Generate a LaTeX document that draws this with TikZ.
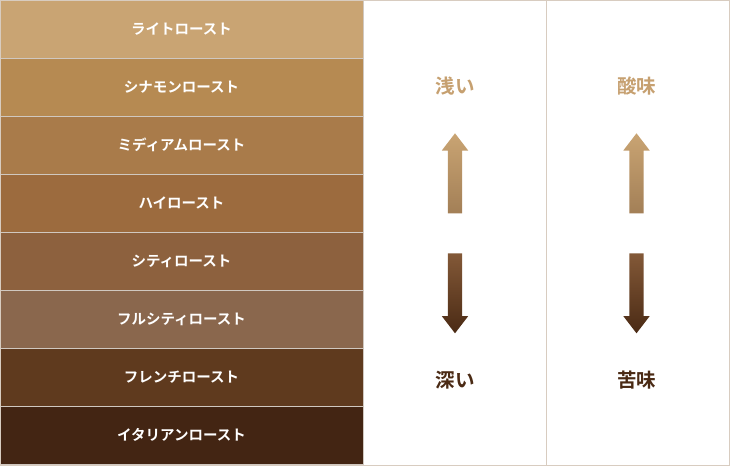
\documentclass[tikz,border=0pt]{standalone}
\usepackage{fontspec}
\setmainfont{Noto Sans CJK JP}[BoldFont={Noto Sans CJK JP Bold}]
\usepackage{tikz}
\usetikzlibrary{positioning,shapes.arrows}

\definecolor{frame}{RGB}{216, 204, 192}
\definecolor{rule}{RGB}{208, 200, 192}
\definecolor{lightroast}{RGB}{201, 164, 115}
\definecolor{cinnamonroast}{RGB}{182, 138, 82}
\definecolor{mediumroast}{RGB}{169, 123, 74}
\definecolor{highroast}{RGB}{156, 107, 62}
\definecolor{cityroast}{RGB}{141, 97, 62}
\definecolor{fullcityroast}{RGB}{138, 103, 77}
\definecolor{frenchroast}{RGB}{95, 58, 30}
\definecolor{italianroast}{RGB}{67, 37, 19}
\definecolor{shallow}{RGB}{198, 160, 112}
\definecolor{deep}{RGB}{74, 42, 20}

\begin{document}
\begin{tikzpicture}[x=1pt, y=-1pt,
            roast/.style={
                rectangle, draw=rule, line width=0.8pt,
                minimum width=363pt, minimum height=58pt,
                inner sep=0pt, outer sep=0pt,
                text=white, font=\bfseries\fontsize{14.5}{17}\selectfont
            },
            taste/.style={font=\bfseries\fontsize{19.5}{22}\selectfont},
            uparrow/.style={
                single arrow, shape border rotate=90, draw=none,
                minimum height=80pt, inner sep=7pt, outer sep=0pt, anchor=tip,
                single arrow head extend=6pt, single arrow tip angle=75,
                top color=lightroast, bottom color=lightroast!70!deep
            },
            downarrow/.style={
                single arrow, shape border rotate=270, draw=none,
                minimum height=80pt, inner sep=7pt, outer sep=0pt, anchor=tip,
                single arrow head extend=6pt, single arrow tip angle=75,
                top color=cityroast!85!deep, bottom color=deep
            },
        ]

            \useasboundingbox (0,0) rectangle (730,466);

            % roast levels
            \node [roast, fill=lightroast]    (light)    at (181.5,29)          {ライトロースト};
            \node [roast, fill=cinnamonroast] (cinnamon) [below=0pt of light]   {シナモンロースト};
            \node [roast, fill=mediumroast]   (medium)   [below=0pt of cinnamon]{ミディアムロースト};
            \node [roast, fill=highroast]     (high)     [below=0pt of medium]  {ハイロースト};
            \node [roast, fill=cityroast]     (city)     [below=0pt of high]    {シティロースト};
            \node [roast, fill=fullcityroast] (fullcity) [below=0pt of city]    {フルシティロースト};
            \node [roast, fill=frenchroast]   (french)   [below=0pt of fullcity]{フレンチロースト};
            \node [roast, fill=italianroast]  (italian)  [below=0pt of french]  {イタリアンロースト};

            % columns
            \draw[frame, line width=0.8pt] (0.4,0.4) rectangle (729.6,465.6);
            \draw[frame, line width=0.8pt] (546,0) -- (546,466);

            % degree of roast
            \node [taste, text=shallow] (shallow) at (455,86.5)  {浅い};
            \node [taste, text=deep]    (deep)    at (455,380) {深い};
            \node [uparrow]   (up1)   at (455,133.3) {};
            \node [downarrow] (down1) at (455,333.3) {};

            % taste
            \node [taste, text=shallow] (sour)   at (636.5,86.5)  {酸味};
            \node [taste, text=deep]    (bitter) at (636.5,380) {苦味};
            \node [uparrow]   (up2)   at (636.5,133.3) {};
            \node [downarrow] (down2) at (636.5,333.3) {};

        \end{tikzpicture}
\end{document}
